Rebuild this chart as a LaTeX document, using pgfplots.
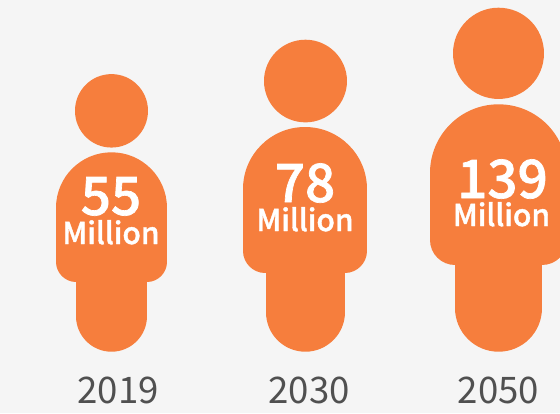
\documentclass[border=0pt]{standalone}
\usepackage{pgfplots}
\pgfplotsset{compat=1.18}
\usepackage{fontspec}
\setmainfont{Noto Sans CJK SC}
\newfontfamily\medfont[FakeBold=1.3]{Noto Sans CJK SC Medium}
\definecolor{bodyorange}{HTML}{F67E3D}
\definecolor{paper}{HTML}{F5F5F5}
\definecolor{yeartext}{HTML}{505050}
\pgfplotsset{
  limb/.style={no markers, draw=bodyorange, line width=#1pt, line cap=round},
  trunk/.style={no markers, draw=bodyorange, fill=bodyorange, line width=#1pt, line join=round, line cap=round},
}
\newcommand{\bignum}[3]{\node[anchor=base, text=white, font=\fontsize{53}{53}\selectfont\medfont] at (axis cs:#1,#2) {#3};}
\newcommand{\unitlabel}[2]{\node[anchor=base, text=white, font=\fontsize{30}{30}\selectfont\medfont] at (axis cs:#1,#2) {Million};}
\newcommand{\yearlabel}[2]{\node[anchor=base, text=yeartext, font=\fontsize{36.6}{37}\selectfont] at (axis cs:#1,403) {#2};}
\begin{document}
\begin{tikzpicture}
\begin{axis}[
  scale only axis, width=560pt, height=413pt,
  xmin=0, xmax=560, ymin=0, ymax=413, y dir=reverse,
  hide axis, clip=true,
]
% page background
\addplot[no markers, draw=none, fill=paper] coordinates {(0,0) (560,0) (560,413) (0,413) (0,0)};

% 2019: head and shoulders are round-capped strokes of almost no length
\addplot[limb=73.4] coordinates {(111.5,110.8) (111.5,110.85)};
\addplot[limb=71] coordinates {(111.5,230) (111.5,316.2)};
\addplot[limb=111] coordinates {(111.5,207.8) (111.5,207.85)};
\addplot[trunk=40] coordinates {(76,207.8) (147,207.8) (147,261.7) (76,261.7) (76,207.8)};

% 2030
\addplot[limb=82.6] coordinates {(305.2,81) (305.2,81.05)};
\addplot[limb=79] coordinates {(305.2,220) (305.2,312.2)};
\addplot[limb=124] coordinates {(305,189) (305,189.05)};
\addplot[trunk=44] coordinates {(265,189) (345,189) (345,250.7) (265,250.7) (265,189)};

% 2050
\addplot[limb=91.2] coordinates {(498.7,53.3) (498.7,53.35)};
\addplot[limb=87.4] coordinates {(498.7,210) (498.7,308)};
\addplot[limb=137.4] coordinates {(498.7,173) (498.7,173.05)};
\addplot[trunk=50] coordinates {(455,173) (542.4,173) (542.4,240) (455,240) (455,173)};

\bignum{111}{215}{55}
\unitlabel{111}{244}
\bignum{305}{202}{78}
\unitlabel{305}{231}
\bignum{502.5}{198}{139}
\unitlabel{501.5}{226}

\yearlabel{118}{2019}
\yearlabel{309}{2030}
\yearlabel{498.5}{2050}
\end{axis}
\pgfresetboundingbox
\path (0,0) rectangle (560pt,413pt);
\end{tikzpicture}
\end{document}
